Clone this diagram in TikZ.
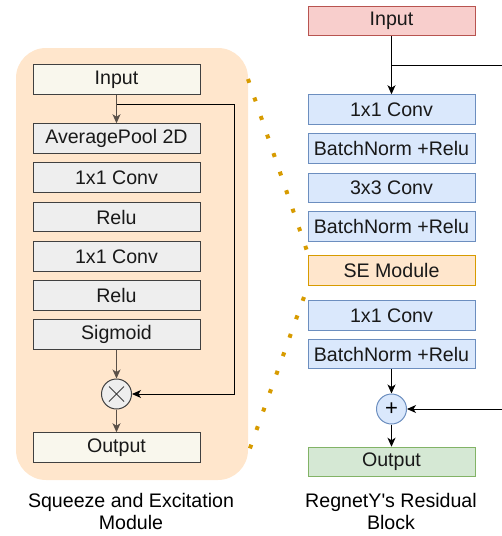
\documentclass[tikz,border=0pt]{standalone}
\usepackage{fontspec}
\setmainfont{Liberation Sans}
\usetikzlibrary{arrows.meta}
\definecolor{sepanel}{HTML}{FFE6CC}
\definecolor{seio}{HTML}{F9F7ED}
\definecolor{segray}{HTML}{EEEEEE}
\definecolor{seline}{HTML}{5A5048}
\definecolor{rbred}{HTML}{F8CECC}
\definecolor{rbredline}{HTML}{B85450}
\definecolor{rbblue}{HTML}{DAE8FC}
\definecolor{rbblueline}{HTML}{6C8EBF}
\definecolor{rbgreen}{HTML}{D5E8D4}
\definecolor{rbgreenline}{HTML}{82B366}
\definecolor{rborange}{HTML}{D79B00}

\begin{document}
\begin{tikzpicture}[x=1pt,y=-1pt]
	\tikzset{blk/.style={draw, line width=1pt, minimum width=167pt, minimum height=29.5pt, inner sep=0pt, text=black!90, font=\fontsize{19.6}{22}\selectfont}}
	\tikzset{seio/.style={blk, draw=black!75, fill=seio}}
	\tikzset{seop/.style={blk, draw=black!75, fill=segray}}
	\tikzset{rbop/.style={blk, draw=rbblueline, fill=rbblue}}
	\tikzset{arr/.style={line width=1pt, -{Stealth[length=9pt,width=8pt,inset=2.5pt]}}}
	\tikzset{zoomline/.style={rborange, line width=4pt, dash pattern=on 4pt off 15.6pt}}
	\tikzset{caption/.style={align=center, font=\fontsize{19.6}{22}\selectfont}}
	\useasboundingbox (0,0) rectangle (502,536);

	% squeeze and excitation module
	\fill[sepanel, rounded corners=30pt] (16,48) rectangle (248,480);
	\node[seio] (seIn) at (116.5,79.5) {Input};
	\node[seop] (sePool) at (116.5,138.5) {AveragePool 2D};
	\node[seop] (seConvA) at (116.5,177.5) {1x1 Conv};
	\node[seop] (seReluA) at (116.5,217) {Relu};
	\node[seop] (seConvB) at (116.5,256.5) {1x1 Conv};
	\node[seop] (seReluB) at (116.5,295.5) {Relu};
	\node[seop] (seSig) at (116.5,334.5) {Sigmoid};
	\node[circle, draw=black!75, fill=segray, line width=1pt, minimum size=30pt, inner sep=0pt,
		path picture={\draw[line width=1pt] ([shift={(-7.5,-7.5)}]path picture bounding box.center) -- ++(15,15)
			([shift={(-7.5,7.5)}]path picture bounding box.center) -- ++(15,-15);}] (seMul) at (116.5,394) {};
	\node[seio] (seOut) at (116.5,447.5) {Output};
	\node[caption] (seCap) at (131,511) {Squeeze and Excitation\\Module};

	\draw[arr, seline] (seIn) -- (sePool);
	\draw[arr, seline] (seSig) -- (seMul);
	\draw[arr, seline] (seMul) -- (seOut);
	\coordinate (seSplit) at (116.5,104);
	\coordinate (seCorner) at (234,104);
	\draw[arr] (seSplit) -- (seCorner) |- (seMul);

	% regnety residual block
	\node[blk, draw=rbredline, fill=rbred] (rbIn) at (391.5,21) {Input};
	\node[rbop] (rbConvA) at (391.5,109.5) {1x1 Conv};
	\node[rbop] (rbBnA) at (391.5,148.5) {BatchNorm +Relu};
	\node[rbop] (rbConvB) at (391.5,188) {3x3 Conv};
	\node[rbop] (rbBnB) at (391.5,226.5) {BatchNorm +Relu};
	\node[blk, draw=rborange, fill=sepanel] (rbSe) at (391.5,270.5) {SE Module};
	\node[rbop] (rbConvC) at (391.5,315.5) {1x1 Conv};
	\node[rbop] (rbBnC) at (391.5,354) {BatchNorm +Relu};
	\node[circle, draw=rbblueline, fill=rbblue, line width=1pt, minimum size=30pt, inner sep=0pt,
		font=\fontsize{22}{22}\selectfont] (rbAdd) at (391.5,409) {+};
	\node[blk, draw=rbgreenline, fill=rbgreen] (rbOut) at (391.5,462) {Output};
	\node[caption] (rbCap) at (391,511) {RegnetY\textquotesingle s Residual\\Block};

	\draw[arr] (rbIn) -- (rbConvA);
	\draw[arr] (rbBnC) -- (rbAdd);
	\draw[arr] (rbAdd) -- (rbOut);
	\coordinate (rbSplit) at (391.5,65);
	\coordinate (rbEdgeA) at (502,65);
	\coordinate (rbEdgeB) at (502,409);
	\draw[line width=1pt] (rbSplit) -- (rbEdgeA);
	\draw[arr] (rbEdgeB) -- (rbAdd);

	% zoom lines
	\coordinate (zoomA) at (248,79);
	\coordinate (zoomB) at (307,251);
	\coordinate (zoomC) at (304,297);
	\coordinate (zoomD) at (249,451);
	\draw[zoomline] (zoomA) -- (zoomB);
	\draw[zoomline] (zoomC) -- (zoomD);
\end{tikzpicture}
\end{document}
